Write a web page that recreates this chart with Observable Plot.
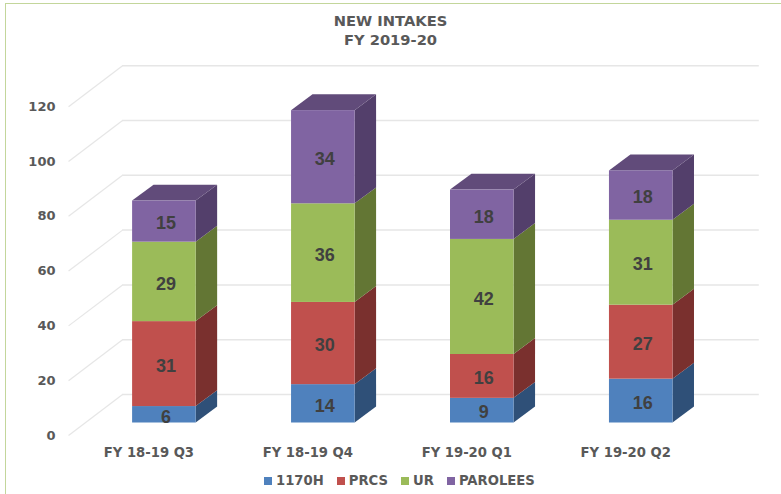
<!DOCTYPE html>
<html>
<head>
<meta charset="utf-8">
<script src="https://cdn.jsdelivr.net/npm/d3@7"></script>
<script src="https://cdn.jsdelivr.net/npm/@observablehq/plot@0.6"></script>
<style>
html,body{margin:0;padding:0;background:#fff;}
#page{position:relative;width:781px;height:494px;overflow:hidden;font-family:"DejaVu Sans",sans-serif;}
#frame{position:absolute;left:5px;top:3px;right:-5px;bottom:-5px;border-left:1.5px solid #c3d69b;border-top:1.5px solid #c3d69b;}
#title{position:relative;height:54px;box-sizing:border-box;padding-top:12px;text-align:center;font-weight:bold;font-size:14.7px;line-height:18.5px;color:#595959;}
#chart svg{display:block;background:transparent;}
#legend{display:flex;position:absolute;top:473px;left:264px;font-weight:bold;font-size:13.2px;line-height:16px;color:#595959;white-space:nowrap;}
#legend span.item{display:flex;align-items:center;margin-right:13px;}
#legend i{display:inline-block;width:8px;height:8px;margin-right:4px;}
</style>
</head>
<body>
<div id="page">
  <div id="frame"></div>
  <div id="title">NEW INTAKES<br>FY 2019-20</div>
  <div id="chart"></div>
  <div id="legend"></div>
</div>
<script>
const categories = ["FY 18-19 Q3", "FY 18-19 Q4", "FY 19-20 Q1", "FY 19-20 Q2"];
const seriesNames = ["1170H", "PRCS", "UR", "PAROLEES"];
const h1170 = [6, 14, 9, 16];
const prcs = [31, 30, 16, 27];
const ur = [29, 36, 42, 31];
const parolees = [15, 34, 18, 18];
const yTicks = [0, 20, 40, 60, 80, 100, 120];
const frontColors = ["#4f81bd", "#c0504d", "#9bbb59", "#8064a2"];
const sideColors = ["#2f5078", "#7a302e", "#637634", "#533f6b"];
const topColor = "#614b7a";
const gridColor = "#e6e6e6";

const seriesValues = [h1170, prcs, ur, parolees];

// Oblique projection offsets, in data units of the two scales
const halfBar = 0.2;
const barDepthX = 0.135, barDepthY = 5.8;
const backX = 0.2327, backY = 10.4;
const frontX = -0.107, frontY = -4.56;
const gridLeft = -0.496, gridRight = 3.51;

const rows = [];
categories.forEach((c, i) => {
  let base = 0;
  seriesValues.forEach((vals, s) => {
    rows.push({i, s, series: seriesNames[s], value: vals[i], lo: base, hi: base + vals[i]});
    base += vals[i];
  });
});
const totals = categories.map((c, i) => ({i, total: d3.sum(seriesValues, v => v[i])}));

const sidePts = rows.flatMap(r => [0, 1].map(t => ({
  k: r.i + "-" + r.s,
  x: r.i + halfBar + t * barDepthX,
  lo: r.lo + t * barDepthY,
  hi: r.hi + t * barDepthY,
  c: sideColors[r.s]
})));
const topPts = totals.flatMap(r => [0, 1].map(t => ({
  k: r.i,
  y: r.total + t * barDepthY,
  x1: r.i - halfBar + t * barDepthX,
  x2: r.i + halfBar + t * barDepthX
})));

const chart = Plot.plot({
  width: 781,
  height: 410,
  marginLeft: 68,
  marginRight: 22,
  marginTop: 0,
  marginBottom: 29,
  style: {fontFamily: '"DejaVu Sans", sans-serif', background: "transparent"},
  x: {type: "linear", domain: [-0.6033, 3.744], range: [68, 759]},
  y: {domain: [0, 120], range: [368.5, 39.7]},
  color: {domain: seriesNames, range: frontColors},
  marks: [
    Plot.ruleY(yTicks, {y: d => d + backY, x1: gridLeft + backX, x2: gridRight + backX, stroke: gridColor, strokeWidth: 1.5}),
    Plot.link(yTicks, {
      x1: gridLeft + frontX, y1: d => d + frontY,
      x2: gridLeft + backX, y2: d => d + backY,
      stroke: gridColor, strokeWidth: 1.2
    }),
    Plot.areaY(sidePts, {x: "x", y1: "lo", y2: "hi", z: "k", fill: "c"}),
    Plot.areaX(topPts, {y: "y", x1: "x1", x2: "x2", z: "k", fill: topColor}),
    Plot.rect(rows, {x1: d => d.i - halfBar, x2: d => d.i + halfBar, y1: "lo", y2: "hi", fill: "series"}),
    Plot.text(rows, {
      x: "i", y: d => (d.lo + d.hi) / 2, text: "value", dy: 2, dx: 1.5,
      fontFamily: '"Liberation Sans", Arial, sans-serif', fontWeight: "bold", fontSize: 18, fill: "#404040"
    }),
    Plot.axisY({
      ticks: yTicks, tickSize: 0, tickPadding: 13, dy: 12.5, label: null,
      fontWeight: "bold", fontSize: 13, color: "#595959"
    }),
    Plot.axisX({
      ticks: [0, 1, 2, 3], tickFormat: i => categories[i], tickSize: 0, tickPadding: 12, dx: -15.5, label: null,
      fontWeight: "bold", fontSize: 13.2, color: "#595959"
    })
  ]
});
document.getElementById("chart").appendChild(chart);

const legend = document.getElementById("legend");
seriesNames.forEach((n, s) => {
  const item = document.createElement("span");
  item.className = "item";
  const sw = document.createElement("i");
  sw.style.background = frontColors[s];
  item.appendChild(sw);
  item.appendChild(document.createTextNode(n));
  legend.appendChild(item);
});
</script>
</body>
</html>
